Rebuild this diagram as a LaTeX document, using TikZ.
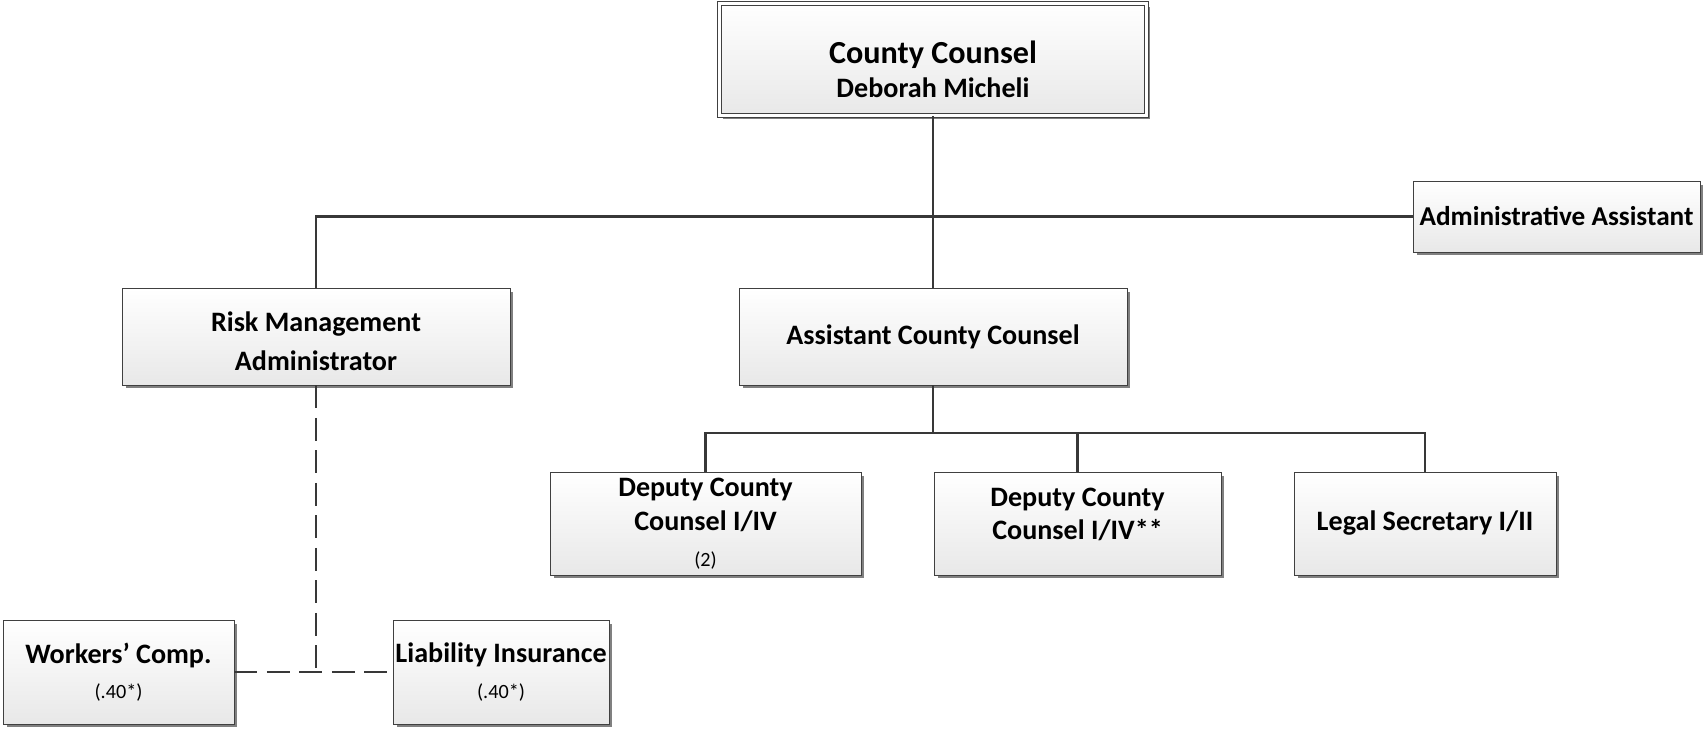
\documentclass[tikz,border=0pt]{standalone}
\usepackage{fontspec}
\setmainfont{Carlito}
\usetikzlibrary{shadows}

\begin{document}
\begin{tikzpicture}[x=0.02cm, y=-0.02cm,
  caixa/.style={draw=black!75, line width=0.5pt, top color=white, bottom color=black!9,
    drop shadow={shadow xshift=0.07cm, shadow yshift=-0.07cm, fill=black!50, opacity=1},
    align=center, inner sep=0pt, font=\fontsize{16}{19}\selectfont\bfseries},
  liga/.style={draw=black!78, line width=1.4pt},
  nota/.style={}]
  \useasboundingbox (0,0) rectangle (1703,729);

  % Nós
  \node[caixa, double=white, double distance=1.6pt, minimum width=8.55cm, minimum height=2.25cm] (cc) at (933,59.5)
    {\rule{0pt}{24pt}{\fontsize{18.3}{22}\selectfont County Counsel}\\Deborah Micheli};
  \node[caixa, font=\fontsize{15.5}{19}\selectfont\bfseries, minimum width=5.74cm, minimum height=1.42cm] (aa) at (1556.5,216.5) {Administrative Assistant};
  \node[caixa, minimum width=7.76cm, minimum height=1.94cm] (rma) at (316,336.5) {\rule{0pt}{16.5pt}Risk Management\\[3pt]Administrator};
  \node[caixa, minimum width=7.76cm, minimum height=1.94cm] (acc) at (933,336.5) {Assistant County Counsel};
  \node[caixa, minimum width=6.22cm, minimum height=2.06cm] (dcc1) at (705.5,523.5)
    {Deputy County\\Counsel I/IV\\[1.5pt]{\fontsize{11.5}{14}\selectfont\mdseries (2)}};
  \node[caixa, minimum width=5.74cm, minimum height=2.06cm] (dcc2) at (1077.5,523.5)
    {Deputy County\\Counsel I/IV**\rule[-11pt]{0pt}{11pt}};
  \node[caixa, minimum width=5.24cm, minimum height=2.06cm] (ls) at (1425,523.5) {Legal Secretary I/II};
  \node[caixa, minimum width=4.62cm, minimum height=2.08cm] (wc) at (118.5,672)
    {Workers’ Comp.\\[1pt]{\fontsize{11.5}{14}\selectfont\mdseries (.40*)}};
  \node[caixa, minimum width=4.32cm, minimum height=2.08cm] (li) at (501,672)
    {Liability Insurance\\[1pt]{\fontsize{11.5}{14}\selectfont\mdseries (.40*)}};

  \coordinate (ramo) at (933,433);
  \coordinate (juncao) at (316,672);

  % Ligações
  \draw[liga] (cc.south) -- (acc.north);
  \draw[liga] (rma.north) |- (aa.west);
  \draw[liga] (acc.south) -- (ramo);
  \draw[liga] (dcc1.north) |- (ramo) -| (ls.north);
  \draw[liga] (ramo -| dcc2.north) -- (dcc2.north);
  \draw[liga, dash pattern=on 13pt off 5.5pt] (rma.south) -- (juncao);
  \draw[liga, dash pattern=on 13pt off 5.5pt] (wc.east) -- (li.west);
\end{tikzpicture}
\end{document}
